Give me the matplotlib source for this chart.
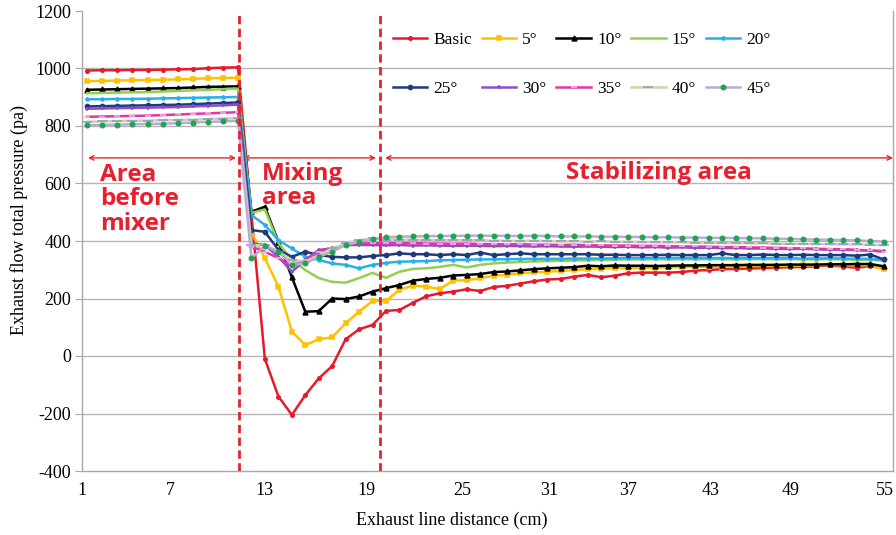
import matplotlib
matplotlib.use("Agg")
import matplotlib.pyplot as plt
import numpy as np

plt.rcParams["axes.unicode_minus"] = False

# ---------------- data ----------------
x_cm = [1.34, 2.36, 3.39, 4.41, 5.50, 6.52, 7.51, 8.47, 9.43, 10.38, 11.34,
        12.20, 13.05, 13.85, 14.64, 15.43, 16.22, 17.01, 17.80, 18.59, 19.41,
        20.25, 21.09, 21.93, 22.77, 23.61, 24.45, 25.32, 26.25, 27.18, 28.10,
        29.03, 29.96, 30.89, 31.90, 32.92, 33.94, 34.96, 35.98, 37.01, 37.98,
        38.95, 39.92, 40.90, 41.87, 42.84, 43.84, 44.85, 45.86, 46.87, 47.88,
        48.89, 49.76, 50.62, 51.48, 52.34, 53.19, 54.06, 54.91]

basic = [993, 994, 994, 995, 995, 996, 997, 998, 1001, 1003, 1004,
         490, -10, -141, -205, -136, -78, -35, 58, 93, 108,
         157, 160, 185, 208, 218, 224, 232, 226, 240, 244,
         252, 260, 266, 268, 276, 282, 274, 279, 288, 290,
         290, 290, 292, 297, 299, 302, 303, 304, 306, 307,
         309, 310, 312, 316, 311, 307, 313, 305]
deg5 = [956, 957, 958, 959, 960, 961, 962, 964, 966, 967, 968,
        430, 340, 241, 85, 38, 58, 65, 114, 154, 192,
        192, 230, 245, 241, 233, 262, 264, 270, 280, 282,
        288, 291, 293, 296, 299, 302, 303, 306, 305, 306,
        307, 308, 309, 310, 310, 311, 312, 313, 313, 314,
        314, 315, 316, 317, 316, 315, 316, 301]
deg10 = [926, 927, 928, 929, 930, 931, 932, 934, 936, 937, 938,
         502, 519, 397, 274, 154, 156, 200, 198, 207, 224,
         236, 247, 262, 268, 272, 280, 282, 285, 292, 294,
         298, 302, 305, 307, 309, 314, 312, 315, 314, 314,
         313, 314, 315, 315, 316, 316, 316, 317, 317, 317,
         318, 318, 318, 319, 319, 320, 320, 312]
deg15 = [914, 915, 916, 917, 918, 920, 922, 924, 926, 928, 930,
         498, 510, 393, 334, 299, 271, 258, 255, 271, 289,
         272, 293, 303, 305, 310, 317, 308, 317, 322, 325,
         327, 329, 330, 331, 332, 333, 334, 335, 336, 336,
         337, 336, 337, 336, 337, 337, 336, 337, 337, 336,
         337, 336, 336, 337, 336, 335, 335, 332]
deg20 = [893, 893, 894, 894, 895, 896, 897, 898, 899, 900, 901,
         490, 456, 403, 374, 345, 334, 322, 317, 305, 317,
         324, 328, 329, 330, 333, 334, 335, 336, 336, 337,
         337, 338, 338, 338, 339, 339, 339, 340, 340, 340,
         340, 341, 340, 341, 340, 341, 340, 340, 341, 340,
         340, 339, 339, 340, 339, 338, 338, 333]
deg25 = [868, 869, 870, 871, 872, 873, 874, 876, 878, 880, 882,
         438, 432, 369, 345, 363, 351, 345, 343, 343, 348,
         351, 357, 354, 354, 351, 354, 351, 360, 351, 354,
         357, 354, 354, 354, 354, 354, 352, 352, 351, 351,
         351, 352, 351, 351, 351, 357, 351, 351, 353, 351,
         351, 352, 351, 351, 351, 349, 353, 336]
deg30 = [860, 861, 862, 863, 864, 865, 866, 868, 870, 872, 874,
         392, 386, 345, 293, 334, 369, 374, 386, 386, 386,
         385, 386, 384, 385, 384, 383, 384, 383, 382, 383,
         382, 381, 382, 381, 380, 381, 380, 379, 380, 378,
         379, 377, 378, 376, 377, 375, 376, 374, 374, 373,
         372, 373, 371, 370, 370, 368, 367, 365]
deg35 = [832, 833, 834, 835, 836, 838, 840, 842, 844, 846, 848,
         380, 363, 340, 311, 334, 363, 374, 386, 392, 392,
         393, 392, 393, 391, 391, 390, 391, 389, 389, 388,
         389, 387, 387, 386, 387, 385, 385, 384, 384, 383,
         383, 382, 381, 381, 380, 379, 379, 378, 377, 376,
         375, 374, 373, 372, 371, 369, 367, 362]
deg40 = [815, 816, 817, 818, 819, 820, 821, 822, 824, 826, 827,
         385, 386, 363, 334, 328, 351, 374, 392, 403, 409,
         405, 404, 405, 403, 403, 402, 403, 402, 401, 401,
         400, 401, 400, 399, 399, 398, 399, 397, 397, 396,
         396, 395, 396, 394, 394, 393, 393, 392, 392, 391,
         390, 390, 389, 389, 388, 388, 387, 385]
deg45 = [803, 804, 805, 806, 807, 808, 810, 812, 814, 816, 818,
         340, 383, 362, 317, 322, 345, 363, 386, 397, 406,
         413, 415, 416, 417, 417, 418, 418, 419, 418, 418,
         417, 418, 417, 416, 416, 416, 415, 415, 414, 414,
         413, 413, 412, 412, 411, 411, 410, 410, 409, 408,
         407, 406, 405, 404, 403, 402, 400, 398]

labels = ["Basic", "5°", "10°", "15°", "20°", "25°", "30°", "35°", "40°", "45°"]
series = [basic, deg5, deg10, deg15, deg20, deg25, deg30, deg35, deg40, deg45]

x_ticks = [1, 7, 13, 19, 25, 31, 37, 43, 49, 55]
y_ticks = [-400, -200, 0, 200, 400, 600, 800, 1000, 1200]

zone_bounds = [11.40, 19.88]
arrow_level = 689

# ---------------- layout of the (unevenly printed) distance axis ----------------
scale_vals = [-5, 1, 7, 13, 19, 25, 31, 37, 43, 49, 55, 61]
scale_px = [-6, 82, 170, 264, 366, 462, 549, 628, 711, 791, 885, 979]


def fwd(v):
    return np.interp(v, scale_vals, scale_px)


def inv(p):
    return np.interp(p, scale_px, scale_vals)


# ---------------- style ----------------
line_colors = ["#e8192c", "#ffc000", "#000000", "#92d050", "#29b0ea",
               "#1f3a7a", "#8a4fc7", "#e535ab", "#c3d9a8", "#b7acd8"]
markers = ["o", "s", "^", "", "*", "o", "+", "_", "_", "o"]
marker_sizes = [2.5, 2.8, 3.5, 0, 3, 3, 3.5, 5, 7, 3.2]
marker_colors = ["#e8192c", "#ffc000", "#000000", "#92d050", "#29b0ea",
                 "#1f3a7a", "#8a4fc7", "#e6c6dc", "#9d8fd0", "#22a350"]

serif = ["Liberation Serif", "DejaVu Serif"]
red = "#e8202e"

fig = plt.figure(figsize=(8.96, 5.35), dpi=100)
ax = fig.add_axes([82 / 896, 64 / 535, 811 / 896, 460 / 535])
ax.set_xscale("function", functions=(fwd, inv))

handles = []
for i, (lab, ys) in enumerate(zip(labels, series)):
    h, = ax.plot(x_cm, ys, color=line_colors[i], lw=1.8,
                 marker=markers[i] if markers[i] else None,
                 ms=marker_sizes[i], mfc=marker_colors[i], mec=marker_colors[i], mew=1.1,
                 label=lab, zorder=3 + i * 0.1)
    handles.append(h)

ax.set_xlim(1, inv(893))
ax.set_ylim(-400, 1200)
ax.set_xticks(x_ticks)
ax.set_xticklabels([str(v) for v in x_ticks])
ax.xaxis.set_minor_locator(matplotlib.ticker.NullLocator())
ax.set_yticks(y_ticks)
for yv in y_ticks[1:-1]:
    ax.axhline(yv, color="#b4b4b4", lw=1.0, zorder=1)

ax.spines["top"].set_visible(False)
for s in ["left", "bottom", "right"]:
    ax.spines[s].set_color("#a8a8a8")
    ax.spines[s].set_linewidth(1.0)

ax.tick_params(axis="y", length=5, color="#a8a8a8", pad=3, labelsize=13)
ax.tick_params(axis="x", length=0, pad=8, labelsize=13)
for t in ax.get_xticklabels() + ax.get_yticklabels():
    t.set_fontfamily(serif)

ax.set_xlabel("Exhaust line distance (cm)", fontsize=13, family=serif)
ax.set_ylabel("Exhaust flow total pressure (pa)", fontsize=13, family=serif)
ax.xaxis.set_label_coords(0.456, -0.088)
ax.yaxis.set_label_coords(-0.066, 0.546)

# zone separators
for xb in zone_bounds:
    ax.axvline(xb, color=red, lw=2, ls=(0, (3, 1.6)), zorder=6)

# zone arrows
arr = dict(arrowstyle="<->", color=red, lw=1.0, shrinkA=0, shrinkB=0, mutation_scale=8)
ax.annotate("", xy=(1.41, arrow_level), xytext=(11.21, arrow_level), arrowprops=arr)
ax.annotate("", xy=(11.66, arrow_level), xytext=(19.62, arrow_level), arrowprops=arr)
ax.annotate("", xy=(20.19, arrow_level), xytext=(inv(893), arrow_level), arrowprops=arr)

zfont = dict(color=red, fontsize=17.5, fontweight="bold", family=["Open Sans", "DejaVu Sans"],
             va="top", ha="left", linespacing=1.02, zorder=7)
ax.text(2.23, 672, "Area\nbefore\nmixer", **zfont)
ax.text(12.87, 676, "Mixing\narea", **zfont)
ax.text(32.29, 679, "Stabilizing area", **zfont)

order = [0, 5, 1, 6, 2, 7, 3, 8, 4, 9]
leg = ax.legend([handles[i] for i in order], [labels[i] for i in order],
                ncol=5, loc="upper left", bbox_to_anchor=(0.383, 0.955),
                frameon=False, prop={"family": serif, "size": 12.5},
                handlelength=2.0, handletextpad=0.35, columnspacing=0.55,
                labelspacing=1.9, borderpad=0, borderaxespad=0)

fig.savefig("out.png", dpi=100)
